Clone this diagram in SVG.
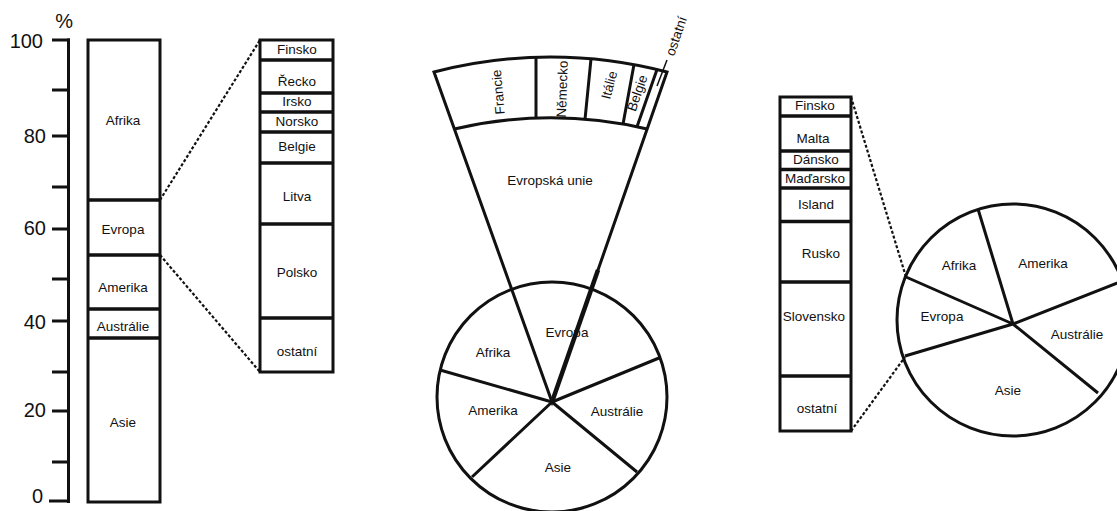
<svg xmlns="http://www.w3.org/2000/svg" width="1117" height="511" viewBox="0 0 1117 511">
<style>
.s{fill:none;stroke:#111;stroke-width:3}
.d{fill:none;stroke:#111;stroke-width:3.5}
.t{font-family:"Liberation Sans",Arial,sans-serif;font-size:13.5px;fill:#111;text-anchor:middle}
.ax{font-family:"Liberation Sans",Arial,sans-serif;font-size:20px;fill:#111;text-anchor:end}
.dot{fill:none;stroke:#111;stroke-width:2.2;stroke-dasharray:3 2}
</style>
<rect width="1117" height="511" fill="#fff"/>

<g id="axis">
<line class="s" x1="68.5" y1="38.5" x2="68.5" y2="503"/>
<path class="s" d="M52,40H70M52,90H70M52,136H70M52,187H70M52,229H70M52,279H70M52,321H70M52,372H70M52,411H70M52,462H70M49,501H70"/>
<text class="ax" x="43" y="48">100</text>
<text class="ax" x="46" y="143">80</text>
<text class="ax" x="46" y="235">60</text>
<text class="ax" x="46" y="329">40</text>
<text class="ax" x="46" y="417">20</text>
<text class="ax" x="43" y="503">0</text>
<text class="ax" x="73" y="28">%</text>
</g>

<g id="bar-world">
<rect class="s" x="88" y="40" width="72" height="462"/>
<path class="d" d="M88,200H160M88,255H160M88,309H160M88,338H160"/>
<text class="t" x="123" y="125">Afrika</text>
<text class="t" x="123" y="234">Evropa</text>
<text class="t" x="123" y="292">Amerika</text>
<text class="t" x="123" y="331">Austrálie</text>
<text class="t" x="123" y="427">Asie</text>
</g>

<g id="bar-europe">
<rect class="s" x="260" y="40" width="73" height="332"/>
<path class="d" d="M260,60H333M260,93H333M260,112H333M260,132H333M260,163H333M260,224H333M260,318H333"/>
<text class="t" x="297" y="54">Finsko</text>
<text class="t" x="297" y="86">Řecko</text>
<text class="t" x="297" y="106">Irsko</text>
<text class="t" x="297" y="126">Norsko</text>
<text class="t" x="297" y="151">Belgie</text>
<text class="t" x="297" y="201">Litva</text>
<text class="t" x="297" y="277">Polsko</text>
<text class="t" x="297" y="356">ostatní</text>
</g>

<g id="fan-eu">
<path class="s" d="M434,72 A460,460 0 0 1 667,72 L552,402 Z"/>
<path class="s" d="M454.4,129 A427,427 0 0 1 647.1,129"/>
<path class="s" d="M536,57.2L536,118.3M591,58.8L585,119.4M634,64.6L623,124.2M657,69.5L637,126.8"/>
<line x1="552" y1="402" x2="598" y2="270" stroke="#111" stroke-width="4.5"/>
<line x1="657" y1="86" x2="667" y2="60" stroke="#111" stroke-width="1.5"/>
<text class="t" transform="translate(498,92) rotate(-95)" y="4.8">Francie</text>
<text class="t" transform="translate(562,89) rotate(-88)" y="4.8">Německo</text>
<text class="t" transform="translate(609,85) rotate(-75)" y="4.8">Itálie</text>
<text class="t" transform="translate(637,93) rotate(-71)" y="4.8">Belgie</text>
<text class="t" transform="translate(676,36) rotate(-71)" y="4.8">ostatní</text>
<text class="t" x="550" y="185">Evropská unie</text>
</g>

<g id="pie-middle">
<circle class="s" cx="552" cy="397" r="115"/>
<path class="s" d="M552,402L440,370M552,402L472,477M552,402L637,472M552,402L659,358"/>
<text class="t" x="567" y="337">Evropa</text>
<text class="t" x="493" y="357">Afrika</text>
<text class="t" x="493" y="415">Amerika</text>
<text class="t" x="617" y="416">Austrálie</text>
<text class="t" x="558" y="472">Asie</text>
</g>

<g id="bar-other">
<rect class="s" x="780" y="97" width="71" height="334"/>
<path class="d" d="M780,116H851M780,151H851M780,169.5H851M780,188H851M780,221.5H851M780,282H851M780,376H851"/>
<text class="t" x="815" y="110">Finsko</text>
<text class="t" x="813" y="143">Malta</text>
<text class="t" x="816" y="164">Dánsko</text>
<text class="t" x="815" y="183">Maďarsko</text>
<text class="t" x="816" y="209">Island</text>
<text class="t" x="821" y="258">Rusko</text>
<text class="t" x="814" y="321">Slovensko</text>
<text class="t" x="817" y="413">ostatní</text>
</g>

<g id="pie-right">
<circle class="s" cx="1013" cy="320" r="116"/>
<path class="s" d="M1013,324L906,277M1013,324L978,209M1013,324L1130,278M1013,324L1098,393M1013,324L905,356"/>
<text class="t" x="959" y="270">Afrika</text>
<text class="t" x="1043" y="268">Amerika</text>
<text class="t" x="942" y="321">Evropa</text>
<text class="t" x="1077" y="339">Austrálie</text>
<text class="t" x="1008" y="395">Asie</text>
</g>

<g id="connectors">
<line class="dot" x1="160" y1="200" x2="260" y2="40"/>
<line class="dot" x1="160" y1="255" x2="260" y2="372"/>
<line class="dot" x1="851" y1="97" x2="906" y2="277"/>
<line class="dot" x1="851" y1="431" x2="905" y2="357"/>
</g>
</svg>
